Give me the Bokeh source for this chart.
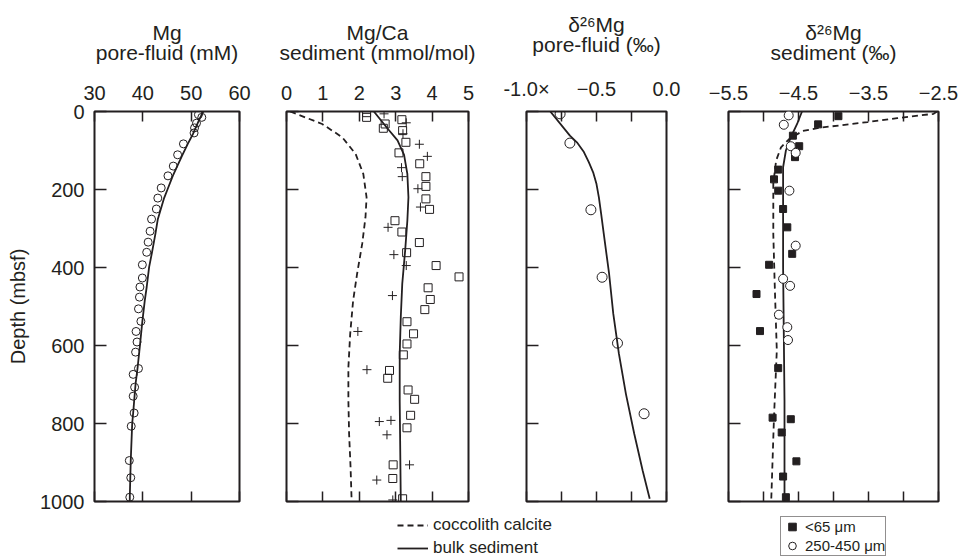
from bokeh.plotting import figure
from bokeh.layouts import row, column
from bokeh.models import Range1d, FixedTicker, LinearAxis, Legend, LegendItem
from bokeh.embed import file_html
from bokeh.resources import INLINE

FONT = "Liberation Sans"
INK = "#231f20"

depth_ticks = [0, 200, 400, 600, 800, 1000]

# ---- Panel 1: Mg pore fluid (mM)
mg_pf_depth = [8, 15, 30, 42, 55, 83, 111, 140, 165, 196, 222, 250, 276, 307, 335, 361, 393,
               427, 450, 476, 506, 538, 564, 591, 617, 659, 674, 707, 730, 773, 807, 895, 939, 989]
mg_pf_value = [51.5, 52.2, 51.1, 50.7, 50.6, 48.4, 47.2, 46.3, 45.2, 43.8, 43.1, 42.8, 41.8, 41.5,
               41.1, 40.8, 39.9, 39.9, 39.4, 39.3, 39.1, 39.6, 38.6, 38.8, 38.5, 39.1, 38.0, 38.3,
               38.0, 38.2, 37.6, 37.2, 37.5, 37.3]
mg_model_depth = [0, 23, 57, 83, 111, 143, 165, 200, 222, 276, 314, 361, 399, 450, 485, 538,
                  600, 659, 698, 773, 800, 895, 989, 1000]
mg_model_value = [52.5, 51.6, 50.4, 49.3, 48.2, 47.0, 46.2, 45.1, 44.4, 43.1, 42.6, 41.9, 41.3,
                  40.8, 40.4, 39.9, 39.4, 38.9, 38.5, 38.0, 37.8, 37.5, 37.3, 37.3]

# ---- Panel 2: Mg/Ca sediment (mmol/mol)
sq_depth = [3, 15, 21, 32, 43, 49, 79, 106, 134, 167, 192, 224, 251, 280, 309, 336, 362, 395,
            424, 452, 482, 508, 539, 570, 596, 624, 664, 684, 714, 738, 779, 811, 906, 941, 993]
sq_value = [2.20, 2.20, 3.17, 2.71, 2.66, 3.19, 3.28, 3.09, 3.66, 3.83, 3.83, 3.83, 3.93, 2.98,
            3.17, 3.65, 3.30, 4.11, 4.74, 3.89, 3.95, 3.80, 3.31, 3.49, 3.31, 3.21, 2.83, 2.78,
            3.34, 3.52, 3.41, 3.31, 2.93, 2.92, 3.19]
cr_depth = [6, 29, 57, 84, 115, 144, 167, 198, 245, 297, 367, 395, 472, 564, 662, 795, 792, 829,
            906, 945, 996]
cr_value = [2.68, 3.29, 3.20, 3.65, 3.87, 3.16, 3.18, 3.61, 3.68, 2.79, 2.95, 3.29, 2.91, 1.96,
            2.21, 2.55, 2.87, 2.76, 3.38, 2.48, 2.92]
cocco_depth = [0, 32, 66, 109, 160, 220, 271, 339, 416, 485, 570, 656, 741, 827, 912, 1000]
cocco_value = [0.10, 0.98, 1.53, 1.90, 2.11, 2.20, 2.17, 2.08, 1.94, 1.83, 1.75, 1.70, 1.70,
               1.72, 1.76, 1.79]
bulk_depth = [0, 43, 74, 111, 160, 220, 280, 356, 442, 527, 621, 741, 827, 1000]
bulk_value = [2.40, 2.77, 3.05, 3.23, 3.32, 3.35, 3.32, 3.26, 3.18, 3.14, 3.11, 3.11, 3.12, 3.14]

# ---- Panel 3: d26Mg pore fluid
d26pf_depth = [6, 81, 252, 425, 594, 775]
d26pf_value = [-0.76, -0.69, -0.54, -0.46, -0.35, -0.16]
d26pf_model_depth = [0, 62, 79, 104, 130, 156, 186, 220, 262, 314, 416, 519, 621, 724, 827,
                     921, 993]
d26pf_model_value = [-0.83, -0.69, -0.64, -0.59, -0.555, -0.524, -0.50, -0.483, -0.467, -0.448,
                     -0.41, -0.38, -0.34, -0.29, -0.23, -0.17, -0.12]

# ---- Panel 4: d26Mg sediment
fine_depth = [12, 33, 62, 89, 117, 149, 174, 203, 250, 297, 365, 393, 468, 563, 658, 785, 789,
              823, 897, 936, 989]
fine_value = [-3.93, -4.22, -4.58, -4.49, -4.55, -4.79, -4.85, -4.79, -4.72, -4.66, -4.59, -4.92,
              -5.10, -5.05, -4.79, -4.87, -4.61, -4.74, -4.53, -4.72, -4.68]
coarse_depth = [10, 34, 89, 106, 203, 344, 429, 447, 521, 553, 586]
coarse_value = [-4.64, -4.71, -4.61, -4.54, -4.63, -4.54, -4.72, -4.62, -4.78, -4.66, -4.65]
sed_bulk_depth = [0, 32, 66, 100, 143, 228, 399, 570, 741, 1000]
sed_bulk_value = [-4.45, -4.52, -4.61, -4.68, -4.72, -4.72, -4.72, -4.71, -4.70, -4.70]
sed_cocco_depth = [0, 6, 17, 27, 42, 50, 70, 92, 126, 185, 314, 442, 613, 784, 1000]
sed_cocco_value = [-2.52, -2.57, -3.09, -3.51, -4.21, -4.44, -4.63, -4.75, -4.82, -4.86, -4.86,
                   -4.84, -4.81, -4.85, -4.89]

# ---- axis ticks / labels
p1_ticks, p1_minor = [30, 40, 50, 60], []
p2_ticks, p2_minor = [0, 1, 2, 3, 4, 5], []
p3_ticks, p3_minor = [-1, -0.5, 0], [-0.75, -0.25]
p3_labels = {-1: "-1.0\u00d7", 0: "0.0"}
p4_ticks, p4_minor = [-5.5, -4.5, -3.5, -2.5], [-5, -4, -3]

titles = ["Mg\npore-fluid (mM)", "Mg/Ca\nsediment (mmol/mol)",
          "\u03b4\u00b2\u2076Mg\npore-fluid (\u2030)", "\u03b4\u00b2\u2076Mg\nsediment (\u2030)"]


def style_ticks(ax):
    ax.major_tick_in = 10
    ax.major_tick_out = 0
    ax.minor_tick_in = 10
    ax.minor_tick_out = 0
    ax.major_tick_line_color = INK
    ax.minor_tick_line_color = INK
    ax.major_tick_line_width = 1.5
    ax.minor_tick_line_width = 1.5
    ax.axis_line_color = None


def hide_labels(ax):
    ax.major_label_text_color = None
    ax.major_label_text_font_size = "1px"
    ax.major_label_standoff = 0


def make_panel(title, xs, xe, ticks, minor, labels, fw, bl, br, first=False):
    p = figure(frame_width=fw, frame_height=390, x_range=Range1d(xs, xe),
               y_range=Range1d(1000, 0), x_axis_location="above",
               toolbar_location=None, output_backend="svg",
               min_border_left=bl, min_border_right=br, min_border_top=111,
               min_border_bottom=14)
    p.grid.visible = False
    p.outline_line_color = INK
    p.outline_line_width = 2
    top = p.xaxis[0]
    top.ticker = FixedTicker(ticks=ticks, minor_ticks=minor)
    if labels:
        top.major_label_overrides = labels
    top.axis_label = title
    top.axis_label_text_font = FONT
    top.axis_label_text_font_size = "21px"
    top.axis_label_text_font_style = "normal"
    top.axis_label_text_color = INK
    top.axis_label_text_line_height = 0.85
    top.axis_label_standoff = 19
    top.major_label_text_font = FONT
    top.major_label_text_font_size = "20px"
    top.major_label_text_color = INK
    top.major_label_standoff = 12
    style_ticks(top)

    bot = LinearAxis(ticker=FixedTicker(ticks=ticks, minor_ticks=minor))
    style_ticks(bot)
    hide_labels(bot)
    p.add_layout(bot, "below")

    ya = p.yaxis[0]
    ya.ticker = FixedTicker(ticks=depth_ticks)
    style_ticks(ya)
    ya.major_tick_in = 12
    if first:
        ya.major_label_text_font = FONT
        ya.major_label_text_font_size = "20px"
        ya.major_label_text_color = INK
        ya.major_label_standoff = 10
        ya.axis_label = "Depth (mbsf)"
        ya.axis_label_text_font = FONT
        ya.axis_label_text_font_size = "20px"
        ya.axis_label_text_font_style = "normal"
        ya.axis_label_text_color = INK
        ya.axis_label_standoff = 8
    else:
        hide_labels(ya)
    return p


p1 = make_panel(titles[0], 30, 60, p1_ticks, p1_minor, None, 145, 94, 24, first=True)
p1.line(mg_model_value, mg_model_depth, line_color=INK, line_width=1.8)
p1.scatter(mg_pf_value, mg_pf_depth, marker="circle", size=8, fill_color=None,
           line_color=INK, line_width=1)

p2 = make_panel(titles[1], 0, 5, p2_ticks, p2_minor, None, 182, 23, 30)
p2.line(cocco_value, cocco_depth, line_color=INK, line_width=1.8, line_dash="6 4")
p2.line(bulk_value, bulk_depth, line_color=INK, line_width=1.8)
p2.scatter(sq_value, sq_depth, marker="square", size=8, fill_color=None,
           line_color=INK, line_width=1)
p2.scatter(cr_value, cr_depth, marker="cross", size=9, line_color=INK, line_width=1)

p3 = make_panel(titles[2], -1, 0, p3_ticks, p3_minor, p3_labels, 140, 28, 34)
p3.line(d26pf_model_value, d26pf_model_depth, line_color=INK, line_width=1.8)
p3.scatter(d26pf_value, d26pf_depth, marker="circle", size=10, fill_color=None,
           line_color=INK, line_width=1)

p4 = make_panel(titles[3], -5.5, -2.5, p4_ticks, p4_minor, None, 210, 28, 22)
p4.line(sed_cocco_value, sed_cocco_depth, line_color=INK, line_width=1.8, line_dash="6 4")
p4.line(sed_bulk_value, sed_bulk_depth, line_color=INK, line_width=1.8)
p4.scatter(fine_value, fine_depth, marker="square", size=7, fill_color=INK,
           line_color=INK, line_width=1)
p4.scatter(coarse_value, coarse_depth, marker="circle", size=9, fill_color="white",
           line_color=INK, line_width=1)

# ---- legend strip (renderers hold points outside the visible range)
lf = figure(width=960, height=43, x_range=Range1d(0, 1), y_range=Range1d(0, 1),
            toolbar_location=None, output_backend="svg", min_border=0,
            x_axis_type=None, y_axis_type=None)
lf.outline_line_color = None
lf.grid.visible = False
r_dash = lf.line(x=[5, 6], y=[5, 5], line_color=INK, line_width=1.8, line_dash="6 4")
r_solid = lf.line(x=[5, 6], y=[5, 5], line_color=INK, line_width=1.8)
r_sq = lf.scatter(x=[5], y=[5], marker="square", fill_color=INK, line_color=INK)
r_ci = lf.scatter(x=[5], y=[5], marker="circle", fill_color="white", line_color=INK)

leg1 = Legend(items=[LegendItem(label="coccolith calcite", renderers=[r_dash]),
                     LegendItem(label="bulk sediment", renderers=[r_solid])],
              location=(397, 0), orientation="vertical", padding=0, margin=0,
              border_line_color=None, background_fill_color=None,
              glyph_width=31, glyph_height=20, label_height=20, spacing=3,
              label_standoff=5, label_text_font=FONT, label_text_font_size="17px",
              label_text_color=INK)
lf.add_layout(leg1)

leg2 = Legend(items=[LegendItem(label="<65 \u03bcm", renderers=[r_sq]),
                     LegendItem(label="250-450 \u03bcm", renderers=[r_ci])],
              location=(780, 2), orientation="vertical", padding=0, margin=0,
              border_line_color=INK, border_line_width=1, background_fill_color="white",
              glyph_width=22, glyph_height=19, label_height=16, spacing=0,
              label_standoff=2, label_text_font=FONT, label_text_font_size="15px",
              label_text_color=INK)
lf.add_layout(leg2)

layout = column(row(p1, p2, p3, p4), lf)
open("out.html", "w").write(file_html(layout, INLINE))
